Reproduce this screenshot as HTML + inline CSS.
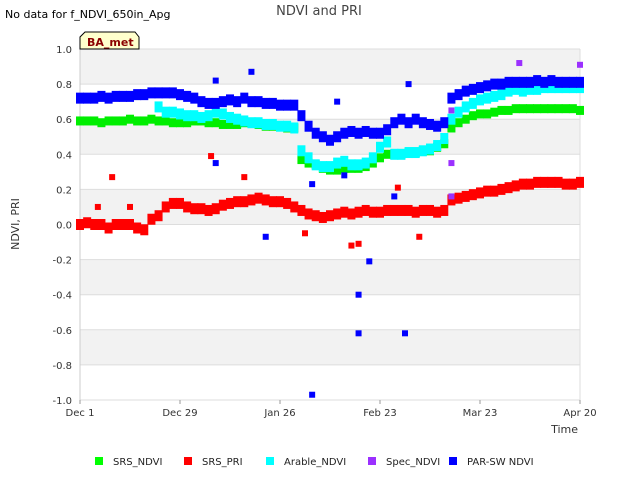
<!DOCTYPE html>
<html><head><meta charset="utf-8"><style>
body{margin:0;background:#fff;font-family:"Liberation Sans","DejaVu Sans",sans-serif;}
svg text{font-family:"DejaVu Sans","Liberation Sans",sans-serif;}
</style></head><body>
<svg id="c" width="640" height="480" xmlns="http://www.w3.org/2000/svg">
<text x="5" y="18" font-size="11" fill="#000">No data for f_NDVI_650in_Apg</text>
<text x="319" y="15" font-size="13" fill="#444" text-anchor="middle">NDVI and PRI</text>
<g id="plot"></g>
<g id="marks"></g>
<g><path d="M80,49 L80,37 L85,32 L135,32 L139,37 L139,49 Z" fill="#ffffcc" stroke="#000" stroke-width="1"/><text x="87" y="46" font-size="11" font-weight="bold" fill="#8b0000">BA_met</text></g>
<text x="578" y="433" font-size="11" fill="#333" text-anchor="end">Time</text>
<text transform="translate(19,224) rotate(-90)" font-size="11" fill="#333" text-anchor="middle">NDVI, PRI</text>
<g id="legend"></g>
</svg>
<script>
const xTicks=[0,28,56,84,112,140];
const xTickLabels=["Dec 1","Dec 29","Jan 26","Feb 23","Mar 23","Apr 20"];
const yTicks=[1.0,0.8,0.6,0.4,0.2,0.0,-0.2,-0.4,-0.6,-0.8,-1.0];
const yTickLabels=["1.0","0.8","0.6","0.4","0.2","0.0","-0.2","-0.4","-0.6","-0.8","-1.0"];
const days=[];for(let d=0;d<=140;d+=2)days.push(d);
const srsNdvi=[.59,.59,.59,.58,.59,.59,.59,.60,.59,.59,.60,
.59,.59,.58,.58,.58,.59,.59,.58,.58,.57,
.57,.57,.58,.58,.57,.56,.56,.56,.55,.55,
.37,.35,.34,.32,.31,.31,.32,.32,.32,.33,
.35,.38,.40,.40,.40,.41,.41,.42,.42,.44,
.46,.55,.58,.60,.62,.63,.63,.64,.65,.65,
.66,.66,.66,.66,.66,.66,.66,.66,.66,.65];
const arableNdvi=[null,null,null,null,null,null,null,null,null,null,null,
.67,.64,.64,.63,.62,.62,.61,.62,.64,.63,
.61,.60,.59,.58,.58,.57,.57,.56,.56,.55,
.42,.38,.34,.33,.33,.35,.36,.34,.34,.35,
.38,.44,.47,.40,.40,.41,.41,.42,.43,.45,
.49,.60,.64,.67,.69,.71,.72,.73,.74,.76,
.77,.76,.77,.77,.78,.78,.78,.78,.78,.78];
const parNdvi=[.72,.72,.72,.73,.72,.73,.73,.73,.74,.74,.75,
.75,.75,.75,.74,.73,.72,.70,.69,.69,.70,
.71,.70,.72,.70,.70,.69,.69,.68,.68,.68,
.62,.56,.52,.50,.48,.50,.52,.53,.52,.53,
.52,.52,.54,.58,.60,.58,.60,.58,.57,.56,
.58,.72,.74,.76,.77,.78,.79,.80,.80,.81,
.81,.81,.81,.82,.81,.82,.81,.81,.81,.81];
const srsPri=[.00,.01,.00,.00,-.02,.00,.00,.00,-.02,-.03,.03,
.05,.10,.12,.12,.10,.09,.09,.08,.09,.11,
.12,.13,.13,.14,.15,.14,.13,.13,.12,.10,
.08,.06,.05,.04,.05,.06,.07,.06,.07,.08,
.07,.07,.08,.08,.08,.08,.07,.08,.08,.07,
.08,.14,.15,.16,.17,.18,.19,.19,.20,.21,
.22,.23,.23,.24,.24,.24,.24,.23,.23,.24];
const redOutDays=[9,36.7,46,63,76,89,95,78,14,5];
const redOutVals=[.27,.39,.27,-.05,-.12,.21,-.07,-.11,.10,.10];
const blueOutDays=[65,52,78,78,81,91,72,92,48,38,74,65,38,88];
const blueOutVals=[-.97,-.07,-.40,-.62,-.21,-.62,.70,.80,.87,.82,.28,.23,.35,.16];
const specDays=[123,140,104,104,104];
const specVals=[.92,.91,.35,.16,.65];
const X0=80,X1=580,Y0=49,Y1=400;
const xs=d=>X0+d*(X1-X0)/140;
const ys=v=>Y0+(1-v)*(Y1-Y0)/2;
const NS="http://www.w3.org/2000/svg";
function mk(t,a,p){const e=document.createElementNS(NS,t);for(const k in a)e.setAttribute(k,a[k]);p.appendChild(e);return e;}
const plot=document.getElementById('plot'),marks=document.getElementById('marks'),leg=document.getElementById('legend');
for(let i=0;i<yTicks.length-1;i++){
 const r=mk('rect',{x:X0,y:ys(yTicks[i]),width:X1-X0,height:ys(yTicks[i+1])-ys(yTicks[i]),fill:i%2==0?'#f2f2f2':'#ffffff'},plot);
 
 
}
yTicks.forEach((v,i)=>{
 const l=mk('line',{x1:X0,x2:X1,y1:ys(v),y2:ys(v),stroke:'#dddddd'},plot);
 
 
 const t=mk('text',{x:72,y:ys(v)+4,'font-size':10,fill:'#333','text-anchor':'end'},plot);t.textContent=yTickLabels[i];
 
 
});
mk('line',{x1:X0,x2:X0,y1:Y0,y2:Y1,stroke:'#cccccc'},plot);
mk('line',{x1:X1,x2:X1,y1:Y0,y2:Y1,stroke:'#dddddd'},plot);
xTicks.forEach((d,i)=>{
 mk('line',{x1:xs(d),x2:xs(d),y1:Y1,y2:Y1+4,stroke:'#999'},plot);
 const t=mk('text',{x:xs(d),y:416,'font-size':10,fill:'#333','text-anchor':'middle'},plot);t.textContent=xTickLabels[i];
 
 
});
function series(vals,color,h,name){
 const g=mk('g',{},marks);
 
 
 vals.forEach((v,i)=>{ if(v===null)return;
  const r=mk('rect',{x:xs(days[i])-4,y:ys(v)-h/2,width:8,height:h,fill:color},g);
  
  
 });
}
function pts(ds,vs,color,name){
 ds.forEach((d,i)=>{
  const r=mk('rect',{x:xs(d)-3,y:ys(vs[i])-3,width:6,height:6,fill:color},marks);
  
  
 });
}
series(srsNdvi,'#00ee00',9,'srs-ndvi');
series(srsPri,'#ff0000',11,'srs-pri');
pts(redOutDays,redOutVals,'#ff0000','srs-pri-outlier');
series(arableNdvi,'#00ffff',11,'arable-ndvi');
series(parNdvi,'#0000ff',11,'par-sw-ndvi');
pts(blueOutDays,blueOutVals,'#0000ff','par-sw-ndvi-outlier');
pts(specDays,specVals,'#9b30ff','spec-ndvi');
const legItems=[["SRS_NDVI","#00ff00",95],["SRS_PRI","#ff0000",184],["Arable_NDVI","#00ffff",266],["Spec_NDVI","#9b30ff",368],["PAR-SW NDVI","#0000ff",449]];
legItems.forEach(([n,c,x])=>{
 const g=mk('g',{},leg);
 
 
 mk('rect',{x:x,y:457,width:8,height:8,fill:c},g);
 const t=mk('text',{x:x+18,y:465,'font-size':10,fill:'#222'},g);t.textContent=n;
});
</script>
</body></html>
